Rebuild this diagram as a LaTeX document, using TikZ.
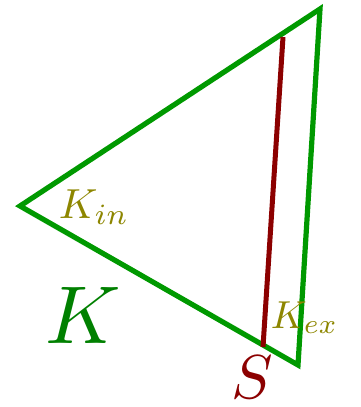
\documentclass[tikz,border=0pt]{standalone}
\begin{document}
\begin{tikzpicture}[x=1pt,y=-1pt,
  greenline/.style={draw=green!60!black,line width=5.2pt,line join=miter},
  redline/.style={draw=red!55!black,line width=5pt},
  lbl/.style={inner sep=0pt,anchor=base west}]
\useasboundingbox (0,0) rectangle (361,407);
\coordinate (A) at (20,206);
\coordinate (B) at (320,9);
\coordinate (C) at (298,365);
\coordinate (R1) at (283,37);
\coordinate (R2) at (263,347);
\draw[greenline] (A) -- (B) -- (C) -- cycle;
\draw[redline] (R1) -- (R2);
\node[lbl,text=olive,scale=4.2] (kin) at (58,218) {$K_{in}$};
\node[lbl,text=green!50!black,scale=8.2] (k) at (44,343) {$K$};
\node[lbl,text=olive,scale=3.9] (kex) at (270,328) {$K_{ex}$};
\node[lbl,text=red!55!black,scale=6.2] (s) at (230,398) {$S$};
\end{tikzpicture}
\end{document}
